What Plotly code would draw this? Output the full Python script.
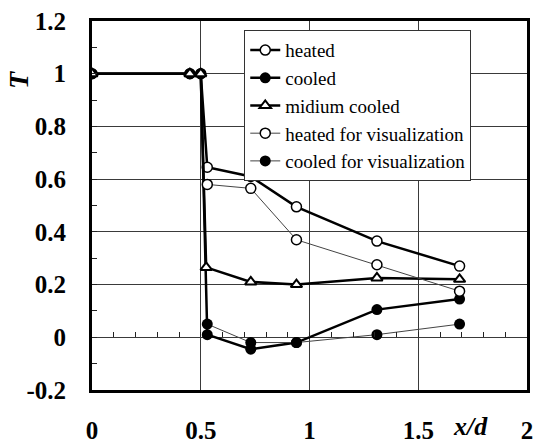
import plotly.graph_objects as go

# ---- data ----
x_main = [0, 0.45, 0.5, 0.53, 0.73, 0.94, 1.31, 1.69]
heated = [1, 1, 1, 0.645, 0.61, 0.495, 0.365, 0.27]
cooled = [1, 1, 1, 0.01, -0.045, -0.02, 0.105, 0.145]
x_medium = [0, 0.45, 0.5, 0.525, 0.73, 0.94, 1.31, 1.69]
medium_cooled = [1, 1, 1, 0.265, 0.21, 0.2, 0.225, 0.22]
x_vis = [0.53, 0.73, 0.94, 1.31, 1.69]
heated_vis = [0.58, 0.565, 0.37, 0.275, 0.175]
cooled_vis = [0.05, -0.02, -0.02, 0.01, 0.05]

y_tickvals = [-0.2, 0, 0.2, 0.4, 0.6, 0.8, 1, 1.2]
y_ticktext = ["-0.2", "0", "0.2", "0.4", "0.6", "0.8", "1", "1.2"]
x_tickvals = [0, 0.5, 1, 1.5, 2]
x_ticktext = ["0", "0.5", "1", "1.5", "2"]

SERIF = "Liberation Serif"

fig = go.Figure()
fig.add_trace(go.Scatter(x=x_main, y=heated, name="heated", mode="lines+markers",
                         line=dict(color="black", width=2.5),
                         marker=dict(symbol="circle", size=10, color="white",
                                     line=dict(color="black", width=1.5))))
fig.add_trace(go.Scatter(x=x_main, y=cooled, name="cooled", mode="lines+markers",
                         line=dict(color="black", width=2.5),
                         marker=dict(symbol="circle", size=11, color="black")))
fig.add_trace(go.Scatter(x=x_medium, y=medium_cooled, name="midium cooled", mode="lines+markers",
                         line=dict(color="black", width=2.5),
                         marker=dict(symbol="triangle-up", size=10, color="white",
                                     line=dict(color="black", width=2))))
fig.add_trace(go.Scatter(x=x_vis, y=heated_vis, name="heated for visualization", mode="lines+markers",
                         line=dict(color="#444444", width=1),
                         marker=dict(symbol="circle", size=10, color="white",
                                     line=dict(color="black", width=1.5))))
fig.add_trace(go.Scatter(x=x_vis, y=cooled_vis, name="cooled for visualization", mode="lines+markers",
                         line=dict(color="#444444", width=1),
                         marker=dict(symbol="circle", size=11, color="black")))
# helper axis carrying the small ticks along the y = 0 line
fig.add_trace(go.Scatter(x=[], y=[], xaxis="x2", showlegend=False, hoverinfo="skip"))

fig.update_layout(
    width=539, height=445,
    margin=dict(l=92, r=12, t=21, b=55, autoexpand=False),
    paper_bgcolor="white", plot_bgcolor="white",
    font=dict(family=SERIF, color="black"),
    xaxis=dict(range=[0, 2], tickvals=x_tickvals, ticktext=x_ticktext, automargin=False,
               showgrid=True, gridcolor="#3a3a3a", gridwidth=1, zeroline=False,
               showline=True, linecolor="black", linewidth=3, mirror=True,
               ticks="", ticklabelstandoff=16,
               tickfont=dict(family=SERIF, size=25, weight="bold", color="black")),
    xaxis2=dict(range=[0, 2], overlaying="x", anchor="free", position=0.2 / 1.4,
                side="bottom", dtick=0.1, tick0=0, ticks="inside", ticklen=5, automargin=False,
                tickcolor="#222", tickwidth=1, showticklabels=False,
                showgrid=False, zeroline=False, showline=False),
    yaxis=dict(range=[-0.2, 1.2], tickvals=y_tickvals, ticktext=y_ticktext, automargin=False,
               showgrid=True, gridcolor="#3a3a3a", gridwidth=1, zeroline=False,
               showline=True, linecolor="black", linewidth=3, mirror=True,
               ticks="inside", ticklen=5, tickcolor="#222",
               minor=dict(dtick=0.1, tick0=0, ticks="inside", ticklen=5, tickcolor="#222",
                          showgrid=False),
               ticklabelstandoff=18,
               tickfont=dict(family=SERIF, size=25, weight="bold", color="black")),
    legend=dict(x=0.35, y=0.975, xanchor="left", yanchor="top",
                bgcolor="white", bordercolor="#333", borderwidth=1,
                font=dict(family=SERIF, size=19, color="black"),
                tracegroupgap=0, itemwidth=30),
    annotations=[
        dict(text="<b><i>T</i></b>", xref="paper", yref="paper", x=-0.17, y=0.84,
             xanchor="center", yanchor="middle",
             textangle=-90, showarrow=False, font=dict(family=SERIF, size=28)),
        dict(text="<b><i>x/d</i></b>", xref="paper", yref="paper", x=0.869, y=-0.1,
             xanchor="center", yanchor="middle",
             showarrow=False, font=dict(family=SERIF, size=26)),
    ],
)

fig.write_html("out.html", config={"displayModeBar": False},
               post_script="document.body.style.margin='0';")
